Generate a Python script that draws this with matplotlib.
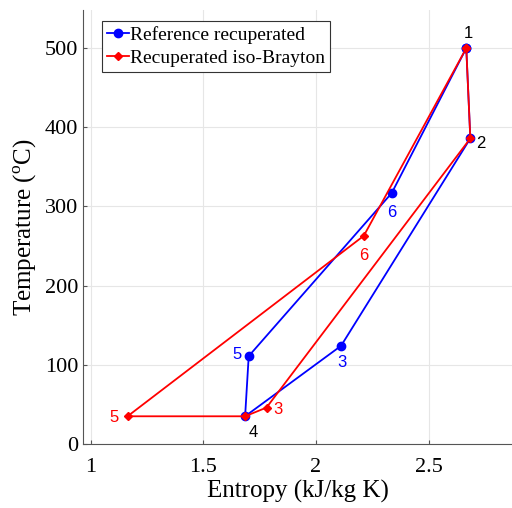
import matplotlib
matplotlib.use('Agg')
import matplotlib.pyplot as plt

# state points 1..6, closed back to 1
ref_s = [2.667, 2.685, 2.111, 1.685, 1.701, 2.336, 2.667]
ref_T = [500, 386, 124, 35, 111, 317, 500]
iso_s = [2.667, 2.685, 1.780, 1.685, 1.163, 2.212, 2.667]
iso_T = [500, 386, 46, 35, 35, 263, 500]

xticks = [1, 1.5, 2, 2.5]
yticks = [0, 100, 200, 300, 400, 500]

plt.rcParams['font.family'] = 'Liberation Serif'
plt.rcParams['mathtext.fontset'] = 'custom'
plt.rcParams['mathtext.rm'] = 'Liberation Serif'

fig = plt.figure(figsize=(5.12, 5.08), dpi=100)
ax = fig.add_axes([0.162, 0.126, 0.838, 0.854])

ax.plot(ref_s, ref_T, color='#0000ff', lw=1.3, marker='o', ms=6, label='Reference recuperated')
ax.plot(iso_s, iso_T, color='#ff0000', lw=1.3, marker='D', ms=4.5, label='Recuperated iso-Brayton')

ax.set_xlim(0.965, 2.87)
ax.set_ylim(0, 548)
ax.set_xticks(xticks)
ax.set_xticklabels(['1', '1.5', '2', '2.5'])
ax.set_yticks(yticks)
ax.tick_params(labelsize=16, direction='in', length=3, color='#555555')
ax.tick_params(axis='x', pad=10)
ax.grid(True, color='#e6e6e6', lw=0.8)
ax.set_axisbelow(True)
for side in ['top', 'right']:
    ax.spines[side].set_visible(False)
for side in ['left', 'bottom']:
    ax.spines[side].set_color('#555555')

ax.set_xlabel('Entropy (kJ/kg K)', fontsize=18, labelpad=2)
ax.set_ylabel('Temperature ($^\\mathregular{o}$C)', fontsize=18, labelpad=4)

lab = dict(family='Liberation Sans', fontsize=12, ha='center', va='center')
ax.text(2.678, 518, '1', color='black', **lab)
ax.text(2.73, 380, '2', color='black', **lab)
ax.text(1.72, 15, '4', color='black', **lab)
ax.text(2.336, 292, '6', color='#0000ff', **lab)
ax.text(2.117, 103, '3', color='#0000ff', **lab)
ax.text(1.65, 113, '5', color='#0000ff', **lab)
ax.text(2.21, 238, '6', color='#ff0000', **lab)
ax.text(1.83, 43, '3', color='#ff0000', **lab)
ax.text(1.105, 33, '5', color='#ff0000', **lab)

leg = ax.legend(loc='upper left', bbox_to_anchor=(0.045, 0.975), fontsize=14, handlelength=1.1,
                handletextpad=0.1, borderpad=0.25, labelspacing=0.3, borderaxespad=0,
                fancybox=False, framealpha=1)
leg.get_frame().set_edgecolor('#333333')
leg.get_frame().set_linewidth(0.8)

fig.savefig('out.png', dpi=100)
